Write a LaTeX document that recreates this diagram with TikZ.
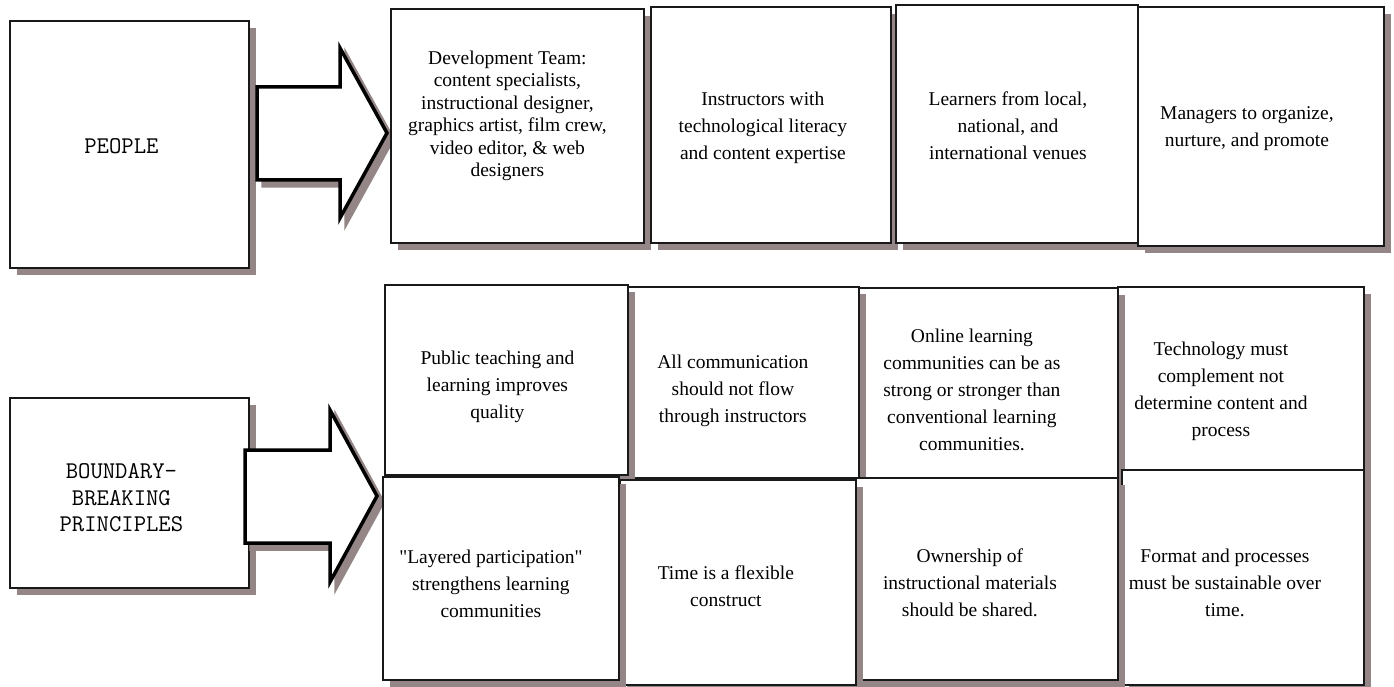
\documentclass[tikz,border=0pt]{standalone}
\usepackage{fontspec}
\setmainfont{Liberation Serif}
\usetikzlibrary{shadows}

\begin{document}
\begin{tikzpicture}[x=1pt,y=-1pt,
  card/.style={draw=lineColor,line width=1.8pt,fill=white,anchor=north west,inner sep=0pt,
    drop shadow={shadow xshift=7pt,shadow yshift=-7pt,fill=shadowColor,opacity=1}},
  cardtext/.style={align=center,inner sep=0pt,font=\fontsize{19.5}{27}\selectfont},
  headtext/.style={align=center,inner sep=0pt,font=\ttfamily\fontsize{24}{26.7}\selectfont},
  blockarrow/.style={draw=black,fill=white,line width=3.5pt,line join=miter},
  blockshadow/.style={draw=shadowColor,fill=shadowColor,line width=3.5pt,line join=miter}]
\definecolor{shadowColor}{RGB}{148,134,134}
\definecolor{lineColor}{RGB}{25,25,25}
\path[use as bounding box,fill=white] (0,0) rectangle (1394,687);

\node[card,minimum width=239pt,minimum height=247pt,
  label={[headtext,xshift=-8pt,yshift=-2pt]center:PEOPLE}] (people) at (9,20) {};
\node[card,minimum width=239pt,minimum height=190pt,
  label={[headtext,xshift=-8pt,yshift=-5pt]center:{BOUNDARY-\\BREAKING\\PRINCIPLES}}] (boundary) at (9,397) {};

\path[blockshadow] (263,93) -- (346,93) -- (346,54) -- (393,139) -- (346,224) -- (346,186) -- (263,186) -- cycle;
\path[blockarrow] (257,87) -- (340,87) -- (340,48) -- (387,133) -- (340,218) -- (340,180) -- (257,180) -- cycle;

\path[blockshadow] (251,456) -- (336,456) -- (336,416) -- (383,502) -- (336,588) -- (336,549) -- (251,549) -- cycle;
\path[blockarrow] (245,450) -- (330,450) -- (330,410) -- (377,496) -- (330,582) -- (330,543) -- (245,543) -- cycle;

\node[card,minimum width=253pt,minimum height=234pt,
  label={[cardtext,font=\fontsize{19.5}{22.4}\selectfont,xshift=-10pt,yshift=10pt]center:{Development Team:\\content specialists,\\instructional designer,\\graphics artist, film crew,\\video editor, \& web\\designers}}] (devteam) at (390,8) {};
\node[card,minimum width=240pt,minimum height=236pt,
  label={[cardtext,xshift=-8pt,yshift=-3pt]center:{Instructors with\\technological literacy\\and content expertise}}] (instructors) at (650,6) {};
\node[card,minimum width=242pt,minimum height=238pt,
  label={[cardtext,xshift=-9pt,yshift=-2pt]center:{Learners from local,\\national, and\\international venues}}] (learners) at (895,4) {};
\node[card,minimum width=246pt,minimum height=239pt,
  label={[cardtext,xshift=-14pt,yshift=-2pt]center:{Managers to organize,\\nurture, and promote}}] (managers) at (1137,6) {};

\node[card,minimum width=246pt,minimum height=183pt,
  label={[cardtext,xshift=-20pt,yshift=-13pt]center:{Technology must\\complement not\\determine content and\\process}}] (technology) at (1117,286) {};
\node[card,minimum width=260pt,minimum height=190pt,
  label={[cardtext,xshift=-16pt,yshift=-7pt]center:{Online learning\\communities can be as\\strong or stronger than\\conventional learning\\communities.}}] (online) at (857,287) {};
\node[card,minimum width=232pt,minimum height=191pt,
  label={[cardtext,xshift=-10pt,yshift=-8pt]center:{All communication\\should not flow\\through instructors}}] (communication) at (626,286) {};
\node[card,minimum width=243pt,minimum height=190pt,
  label={[cardtext,xshift=-9pt,yshift=-7pt]center:{Public teaching and\\learning improves\\quality}}] (publicteaching) at (384,284) {};

\node[card,minimum width=242pt,minimum height=215pt,
  label={[cardtext,xshift=-18pt,yshift=-5pt]center:{Format and processes\\must be sustainable over\\time.}}] (format) at (1121,469) {};
\node[card,minimum width=262pt,minimum height=202pt,
  label={[cardtext,xshift=-17pt,yshift=-4pt]center:{Ownership of\\instructional materials\\should be shared.}}] (ownership) at (855,477) {};
\node[card,minimum width=236pt,minimum height=205pt,
  label={[cardtext,xshift=-12pt,yshift=-4pt]center:{Time is a flexible\\construct}}] (flextime) at (619,479) {};
\node[card,minimum width=236pt,minimum height=203pt,
  label={[cardtext,xshift=-10pt,yshift=-5pt]center:{\textquotedbl Layered participation\textquotedbl\\strengthens learning\\communities}}] (layered) at (382,476) {};
\end{tikzpicture}
\end{document}
